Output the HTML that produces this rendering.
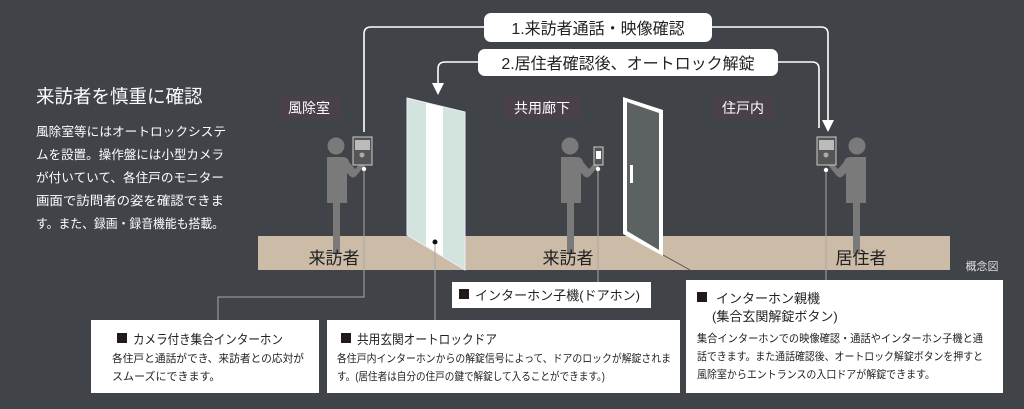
<!DOCTYPE html>
<html><head><meta charset="utf-8"><style>
body{margin:0;background:#404348;font-family:"Liberation Sans","Noto Sans CJK JP",sans-serif}
svg{display:block}
.b{fill:#fff}
</style></head><body>
<svg width="1024" height="409" viewBox="0 0 1024 409" xmlns="http://www.w3.org/2000/svg" font-family="Liberation Sans, Noto Sans CJK JP, sans-serif">
<rect width="1024" height="409" fill="#404348"/>
<text x="36" y="103" font-size="18.5" fill="#fff">来訪者を慎重に確認</text>
<g font-size="12.3" fill="#fff" lengthAdjust="spacingAndGlyphs">
<text x="36" y="136" textLength="190" lengthAdjust="spacingAndGlyphs">風除室等にはオートロックシステ</text>
<text x="36" y="159" textLength="188" lengthAdjust="spacingAndGlyphs">ムを設置。操作盤には小型カメラ</text>
<text x="36" y="182" textLength="188" lengthAdjust="spacingAndGlyphs">が付いていて、各住戸のモニター</text>
<text x="36" y="205" textLength="188" lengthAdjust="spacingAndGlyphs">画面で訪問者の姿を確認できま</text>
<text x="36" y="228" textLength="188" lengthAdjust="spacingAndGlyphs">す。また、録画・録音機能も搭載。</text>
</g>
<rect x="258" y="236" width="692" height="34" fill="#cbbba7"/>
<line x1="663" y1="255" x2="690" y2="270" stroke="#555" stroke-width="1"/>
<path d="M364 132 V34 Q364 27 371 27 H821 Q828 27 828 34 V122" fill="none" stroke="#fff" stroke-width="1.6"/>
<polygon points="822,120 834,120 828,132" fill="#fff"/>
<path d="M819 128 V69 Q819 62 812 62 H445 Q438 62 438 69 V84" fill="none" stroke="#fff" stroke-width="1.6"/>
<polygon points="432,83 444,83 438,95" fill="#fff"/>
<rect x="484" y="13" width="228" height="29" rx="7" fill="#fff"/>
<text x="598" y="34" font-size="16" text-anchor="middle" fill="#222">1.来訪者通話・映像確認</text>
<rect x="478" y="49" width="300" height="27" rx="7" fill="#fff"/>
<text x="628" y="69" font-size="16" text-anchor="middle" fill="#222">2.居住者確認後、オートロック解錠</text>
<rect x="279" y="95" width="61" height="24" fill="#4a4049"/>
<text x="309" y="113" font-size="14" text-anchor="middle" fill="#fff">風除室</text>
<rect x="504" y="95" width="76" height="24" fill="#4a4049"/>
<text x="542" y="113" font-size="14" text-anchor="middle" fill="#fff">共用廊下</text>
<rect x="713" y="95" width="60" height="24" fill="#4a4049"/>
<text x="743" y="113" font-size="14" text-anchor="middle" fill="#fff">住戸内</text>
<polygon points="407,98 465,112 465,270 407,235" fill="#d3e3dd"/>
<polygon points="426,103 443,107 443,257 426,246" fill="#fff"/>
<polygon points="407,98 465,112 465,270 407,235" fill="none" stroke="#eef" stroke-width="1"/>
<circle cx="435" cy="242" r="2.5" fill="#111"/>
<polygon points="623,97 663,110 663,256 623,234" fill="#fff"/>
<polygon points="627,102 659,113 659,250 627,231" fill="#5c6262"/>
<rect x="630" y="165" width="3" height="18" fill="#fff"/>
<g fill="#7a7a7a">
<circle cx="336" cy="146" r="8.5"/>
<path d="M327 157 h16 q5 0 6 5 l6 7 l8 -8 l3 3 l-10 12 q-3 3 -6 0 l-3-3 v30 h-7 v51 h-7 v-51 h-6 z"/>
<circle cx="570" cy="146" r="8.5"/>
<path d="M561 157 h16 q5 0 6 5 l6 7 l8 -8 l3 3 l-10 12 q-3 3 -6 0 l-3-3 v30 h-7 v51 h-7 v-51 h-6 z"/>
<circle cx="857" cy="146" r="8.5"/>
<path d="M866 157 h-16 q-5 0 -6 5 l-6 7 l-8 -8 l-3 3 l10 12 q3 3 6 0 l3-3 v30 h7 v51 h7 v-51 h6 z"/>
</g>
<g>
<rect x="353" y="137" width="19" height="28" fill="#555" stroke="#ccc" stroke-width="1"/>
<rect x="355" y="140" width="15" height="10" fill="#bbb"/>
<circle cx="362" cy="155" r="2.5" fill="#aaa"/>
<rect x="594" y="147" width="9" height="18" fill="#555" stroke="#ccc" stroke-width="1"/>
<rect x="596" y="151" width="5" height="8" fill="#fff"/>
<rect x="817" y="137" width="19" height="28" fill="#555" stroke="#ccc" stroke-width="1"/>
<rect x="819" y="140" width="15" height="10" fill="#bbb"/>
<circle cx="826" cy="155" r="2.5" fill="#aaa"/>
</g>
<g fill="#fff"><circle cx="364" cy="169" r="2.2"/><circle cx="598" cy="169" r="2.2"/><circle cx="826" cy="170" r="2.2"/></g>
<g font-size="17" fill="#222" text-anchor="middle">
<text x="334" y="264">来訪者</text><text x="568" y="264">来訪者</text><text x="861" y="264">居住者</text>
</g>
<text x="982" y="270" font-size="11" fill="#ddd" text-anchor="middle">概念図</text>
<g stroke="#aaa" stroke-width="1" fill="none">
<path d="M364 171 V297 H218 V320"/>
<path d="M435 245 V320"/>
<path d="M598 171 V283"/>
<path d="M826 172 V280"/>
</g>
<rect x="452" y="282" width="199" height="26" class="b"/>
<rect x="459" y="289" width="10" height="10" fill="#221a18"/>
<text x="475" y="300" font-size="13" fill="#222" textLength="165" lengthAdjust="spacingAndGlyphs">インターホン子機(ドアホン)</text>
<rect x="91" y="320" width="228" height="73" class="b"/>
<rect x="117" y="333" width="10" height="10" fill="#221a18"/>
<text x="133" y="344" font-size="13" fill="#222" textLength="150" lengthAdjust="spacingAndGlyphs">カメラ付き集合インターホン</text>
<text x="112" y="362" font-size="11" fill="#222" textLength="192" lengthAdjust="spacingAndGlyphs">各住戸と通話ができ、来訪者との応対が</text>
<text x="112" y="380" font-size="11" fill="#222">スムーズにできます。</text>
<rect x="327" y="320" width="353" height="73" class="b"/>
<rect x="341" y="333" width="10" height="10" fill="#221a18"/>
<text x="357" y="344" font-size="13" fill="#222" textLength="140" lengthAdjust="spacingAndGlyphs">共用玄関オートロックドア</text>
<text x="337" y="362" font-size="10.6" fill="#222" textLength="334" lengthAdjust="spacingAndGlyphs">各住戸内インターホンからの解錠信号によって、ドアのロックが解錠されま</text>
<text x="337" y="380" font-size="10.6" fill="#222" textLength="268" lengthAdjust="spacingAndGlyphs">す。(居住者は自分の住戸の鍵で解錠して入ることができます。)</text>
<rect x="686" y="280" width="317" height="113" class="b"/>
<rect x="697" y="292" width="10" height="10" fill="#221a18"/>
<text x="716" y="303" font-size="13" fill="#222">インターホン親機</text>
<text x="712" y="321" font-size="13" fill="#222">(集合玄関解錠ボタン)</text>
<text x="697" y="342" font-size="10.6" fill="#222" textLength="286" lengthAdjust="spacingAndGlyphs">集合インターホンでの映像確認・通話やインターホン子機と通</text>
<text x="697" y="360" font-size="10.6" fill="#222" textLength="286" lengthAdjust="spacingAndGlyphs">話できます。また通話確認後、オートロック解錠ボタンを押すと</text>
<text x="697" y="378" font-size="10.6" fill="#222" textLength="238" lengthAdjust="spacingAndGlyphs">風除室からエントランスの入口ドアが解錠できます。</text>
</svg>
</body></html>
